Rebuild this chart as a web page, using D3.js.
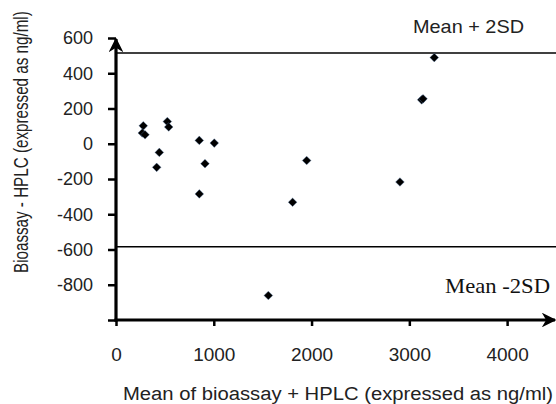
<!DOCTYPE html>
<html>
<head>
<meta charset="utf-8">
<script src="https://cdn.jsdelivr.net/npm/d3@7"></script>
<style>
  body { margin: 0; background: #fff; }
  text { font-family: "Liberation Sans", Arial, sans-serif; fill: #222; }
</style>
</head>
<body>
<div id="plt"></div>
<script>
// data
var meanVals = [279, 269, 297, 525, 539, 443, 416, 852, 1005, 910, 852, 1950, 3255, 3126, 3140, 2904, 1806, 1558];
var diffVals = [102, 61, 51, 126, 95, -49, -134, 19, 4, -113, -285, -95, 489, 249, 255, -217, -332, -861];
var xTicks = [0, 1000, 2000, 3000, 4000];
var yTicks = [600, 400, 200, 0, -200, -400, -600, -800, -1000];
var yTickLabels = ["600", "400", "200", "0", "-200", "-400", "-600", "-800", ""];
var upperLimit = 515;
var lowerLimit = -584;

var W = 556, H = 404;

var svg = d3.select("#plt")
            .append("svg")
            .attr("width", W)
            .attr("height", H);

var x = d3.scaleLinear().domain([0, 4500]).range([116, 556]);
var y = d3.scaleLinear().domain([-1000, 600]).range([320, 38]);

// arrow heads
var defs = svg.append("defs");
defs.append("marker")
    .attr("id", "arr")
    .attr("viewBox", "0 0 10 10")
    .attr("refX", 9).attr("refY", 5)
    .attr("markerWidth", 4.6).attr("markerHeight", 4.6)
    .attr("markerUnits", "strokeWidth")
    .attr("orient", "auto")
    .append("path")
    .attr("d", "M0,0 L10,5 L0,10 L3,5 Z")
    .attr("fill", "#000");

// limit lines
svg.append("line")
   .attr("x1", x(0)).attr("x2", W)
   .attr("y1", y(upperLimit)).attr("y2", y(upperLimit))
   .attr("stroke", "#000").attr("stroke-width", 1.6);
svg.append("line")
   .attr("x1", x(0)).attr("x2", W)
   .attr("y1", y(lowerLimit)).attr("y2", y(lowerLimit))
   .attr("stroke", "#000").attr("stroke-width", 1.6);

// y axis
var yAxis = svg.append("g")
   .attr("transform", "translate(" + x(0) + ",0)")
   .call(d3.axisLeft(y).tickValues(yTicks).tickSize(8)
         .tickFormat(function(d, i) { return yTickLabels[i]; }));
yAxis.select(".domain").remove();
yAxis.selectAll(".tick line").attr("stroke", "#000").attr("stroke-width", 2.5);
yAxis.selectAll(".tick text").style("font-size", "18px").attr("x", -23);

// x axis
var xAxis = svg.append("g")
   .attr("transform", "translate(0," + y(-1000) + ")")
   .call(d3.axisBottom(x).tickValues(xTicks).tickSize(6)
         .tickFormat(d3.format("d")));
xAxis.select(".domain").remove();
xAxis.selectAll(".tick line").attr("stroke", "#000").attr("stroke-width", 2.5);
xAxis.selectAll(".tick text")
     .style("font-size", "19px")
     .attr("dy", null)
     .attr("y", 41);

// thick axis lines with arrows
svg.append("line")
   .attr("x1", x(0)).attr("x2", x(0))
   .attr("y1", y(-1000) + 1.5).attr("y2", y(600) + 1)
   .attr("stroke", "#000").attr("stroke-width", 3.2)
   .attr("marker-end", "url(#arr)");
svg.append("line")
   .attr("x1", x(0) - 1.5).attr("x2", W - 1)
   .attr("y1", y(-1000)).attr("y2", y(-1000))
   .attr("stroke", "#000").attr("stroke-width", 3.2)
   .attr("marker-end", "url(#arr)");

// points
var pts = meanVals.map(function(d, i) { return {m: d, diff: diffVals[i]}; });
svg.selectAll("myPts")
   .data(pts)
   .enter()
   .append("path")
   .attr("d", d3.symbol().type(d3.symbolSquare).size(38))
   .attr("transform", function(d) { return "translate(" + x(d.m) + "," + y(d.diff) + ") rotate(45)"; })
   .attr("fill", "#000")
   .attr("stroke", "#5a7fb0")
   .attr("stroke-width", 0.6)
   .attr("stroke-opacity", 0.6);

// labels
svg.append("text")
   .attr("x", 413).attr("y", 33)
   .attr("textLength", 111).attr("lengthAdjust", "spacingAndGlyphs")
   .style("font-size", "19px")
   .text("Mean + 2SD");
svg.append("text")
   .attr("x", 445).attr("y", 293)
   .attr("textLength", 105).attr("lengthAdjust", "spacingAndGlyphs")
   .style("font-family", "'Liberation Serif', 'Times New Roman', serif")
   .style("font-size", "21px")
   .style("fill", "#111")
   .text("Mean -2SD");

svg.append("text")
   .attr("x", 123).attr("y", 400)
   .attr("textLength", 430).attr("lengthAdjust", "spacingAndGlyphs")
   .style("font-size", "18px")
   .text("Mean of bioassay + HPLC (expressed as ng/ml)");

// y title: squeeze along its length with a scale so its box stays true
var yTitle = svg.append("text")
   .style("font-size", "20px")
   .text("Bioassay - HPLC (expressed as ng/ml)");
var natural = yTitle.node().getComputedTextLength();
yTitle.attr("transform", "translate(28,273) rotate(-90) scale(" + (262 / natural) + ",1)");
</script>
</body>
</html>
